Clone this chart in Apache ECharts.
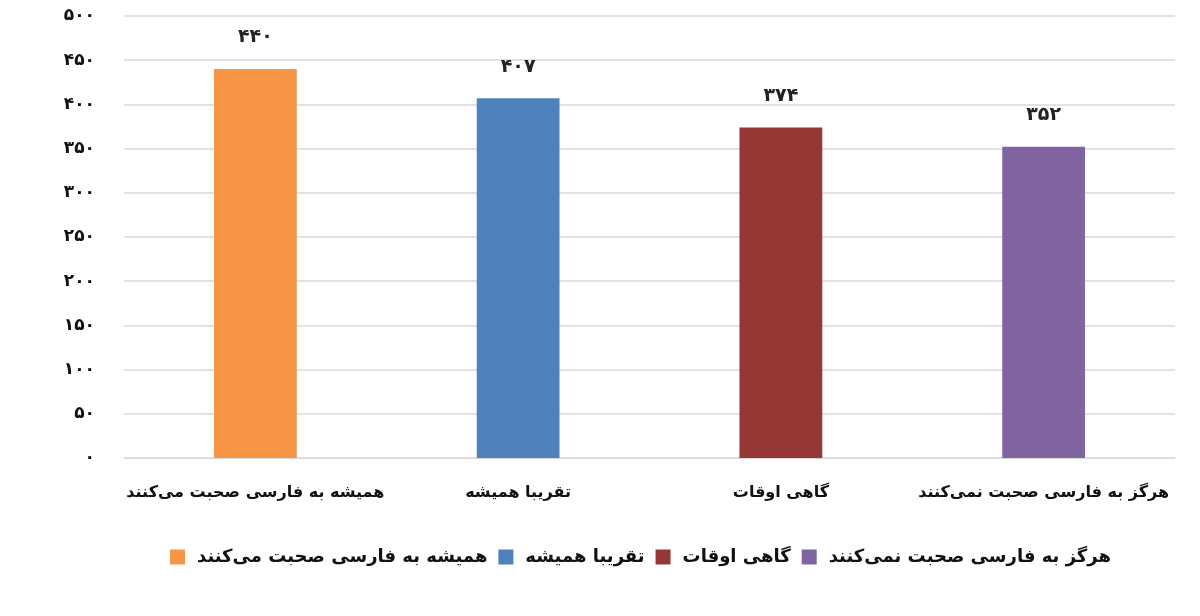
<!DOCTYPE html>
<html>
<head>
    <meta charset="utf-8">
    <title>chart</title>
    <style>
        html, body { margin: 0; padding: 0; background: #fff; }
        #main { width: 1200px; height: 616px; }
    </style>
</head>
<body>
<div id="main"></div>
<script src="https://cdn.jsdelivr.net/npm/echarts@6/dist/echarts.min.js"></script>
<script>
    // data
    var categories = ['همیشه به فارسی صحبت می‌کنند', 'تقریبا همیشه', 'گاهی اوقات', 'هرگز به فارسی صحبت نمی‌کنند'];
    var values = [440, 407, 374, 352];
    var colors = ['#F79646', '#4F81BD', '#953735', '#8064A2'];
    var yTicks = [0, 50, 100, 150, 200, 250, 300, 350, 400, 450, 500];

    // western digits -> persian digits
    var fa = '۰۱۲۳۴۵۶۷۸۹';
    function toFa(n) {
        return String(n).replace(/[0-9]/g, function (d) { return fa[+d]; });
    }

    var font = '"DejaVu Sans", "Noto Sans", sans-serif';

    // one series per category so the legend shows each colour
    var series = categories.map(function (name, i) {
        var d = categories.map(function (c, j) { return j === i ? values[i] : '-'; });
        return {
            name: name,
            type: 'bar',
            stack: 'one',
            barWidth: '31.5%',
            itemStyle: { color: colors[i] },
            label: {
                show: true,
                position: 'top',
                distance: 22,
                color: '#222',
                fontFamily: font,
                fontWeight: 'bold',
                fontSize: 19,
                formatter: function (p) { return toFa(p.value); }
            },
            data: d
        };
    });

    var option = {
        backgroundColor: '#fff',
        animation: false,
        grid: { left: 124, right: 25, top: 16, bottom: 158 },
        legend: {
            bottom: 45,
            left: 165,
            itemWidth: 15,
            itemHeight: 15,
            itemGap: 11,
            icon: 'rect',
            textStyle: { fontFamily: font, fontWeight: 'bold', fontSize: 18, color: '#111', padding: [0, 0, 0, 7] },
            data: categories
        },
        xAxis: {
            type: 'category',
            data: categories,
            axisLine: { show: true, lineStyle: { color: '#d9d9d9' } },
            axisTick: { show: false },
            axisLabel: {
                interval: 0,
                margin: 27,
                color: '#111',
                fontFamily: font,
                fontWeight: 'bold',
                fontSize: 16
            }
        },
        yAxis: {
            type: 'value',
            min: yTicks[0],
            max: yTicks[yTicks.length - 1],
            interval: 50,
            axisLine: { show: false },
            axisTick: { show: false },
            splitLine: { lineStyle: { color: '#d9d9d9', width: 1.5 } },
            axisLabel: {
                margin: 29,
                color: '#111',
                fontFamily: font,
                fontWeight: 'bold',
                fontSize: 17,
                formatter: function (v) { return toFa(v); }
            }
        },
        series: series
    };

    var chart = echarts.init(document.getElementById('main'));
    chart.setOption(option);
</script>
</body>
</html>
